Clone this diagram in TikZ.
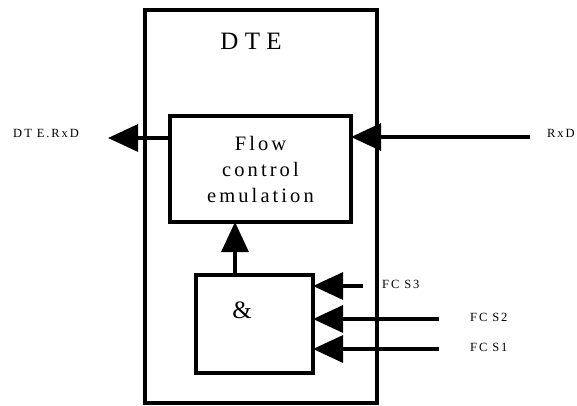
\documentclass[tikz,border=0pt]{standalone}
\usepackage{fontspec}
\setmainfont{Liberation Serif}
\newfontfamily\lsfont[LetterSpace=15]{Liberation Serif}
\newfontfamily\wsfont[LetterSpace=25]{Liberation Serif}
\usetikzlibrary{arrows.meta}
\begin{document}
\begin{tikzpicture}[x=1pt,y=-1pt,
  box/.style={draw,line width=3.2pt,inner sep=0pt,outer sep=0pt},
  conn/.style={line width=3.2pt,-{Triangle[length=30pt,width=27pt]}},
  lbl/.style={inner sep=0pt,font=\lsfont\fontsize{12.5}{14}\selectfont}]
\useasboundingbox (0,0) rectangle (577,406);
% outer DTE box
\node (dte) [box,minimum width=232pt,minimum height=393pt] at (261,206.5) {};
\node (dtelbl) [inner sep=0pt,font=\wsfont\fontsize{25}{28}\selectfont] at (251,41) {DTE};
% flow control emulation
\node (fce) [box,minimum width=181pt,minimum height=106pt,align=center,
  font=\lsfont\fontsize{20.5}{26}\selectfont] at (260.5,169) {Flow\\control\\emulation};
% & box
\node (andb) [box,minimum width=117pt,minimum height=98pt] at (254.5,324) {};
\node (amp) [inner sep=0pt,font=\fontsize{25}{28}\selectfont] at (242,310) {\&};
% labels
\node (dterxd) [lbl] at (46,133) {D\,T E.RxD};
\node (rxd) [lbl,anchor=west] at (547,133) {RxD};
\node (fcs3) [lbl,anchor=west] at (382,284) {FC S3};
\node (fcs2) [lbl,anchor=west] at (470,317) {FC S2};
\node (fcs1) [lbl,anchor=west] at (470,347) {FC S1};
% connector ends
\coordinate (outend) at (108,138);
\coordinate (rxdin) at (530,137);
\coordinate (upx) at (235,0);
\coordinate (s3in) at (363,286);
\coordinate (s2in) at (439,319);
\coordinate (s1in) at (439,349);
% connectors
\draw[conn] (fce.west |- outend) -- (outend);
\draw[conn] (rxdin) -- (fce.east |- rxdin);
\draw[conn] (andb.north -| upx) -- (fce.south -| upx);
\draw[conn] (s3in) -- (andb.east |- s3in);
\draw[conn] (s2in) -- (andb.east |- s2in);
\draw[conn] (s1in) -- (andb.east |- s1in);
\end{tikzpicture}
\end{document}
